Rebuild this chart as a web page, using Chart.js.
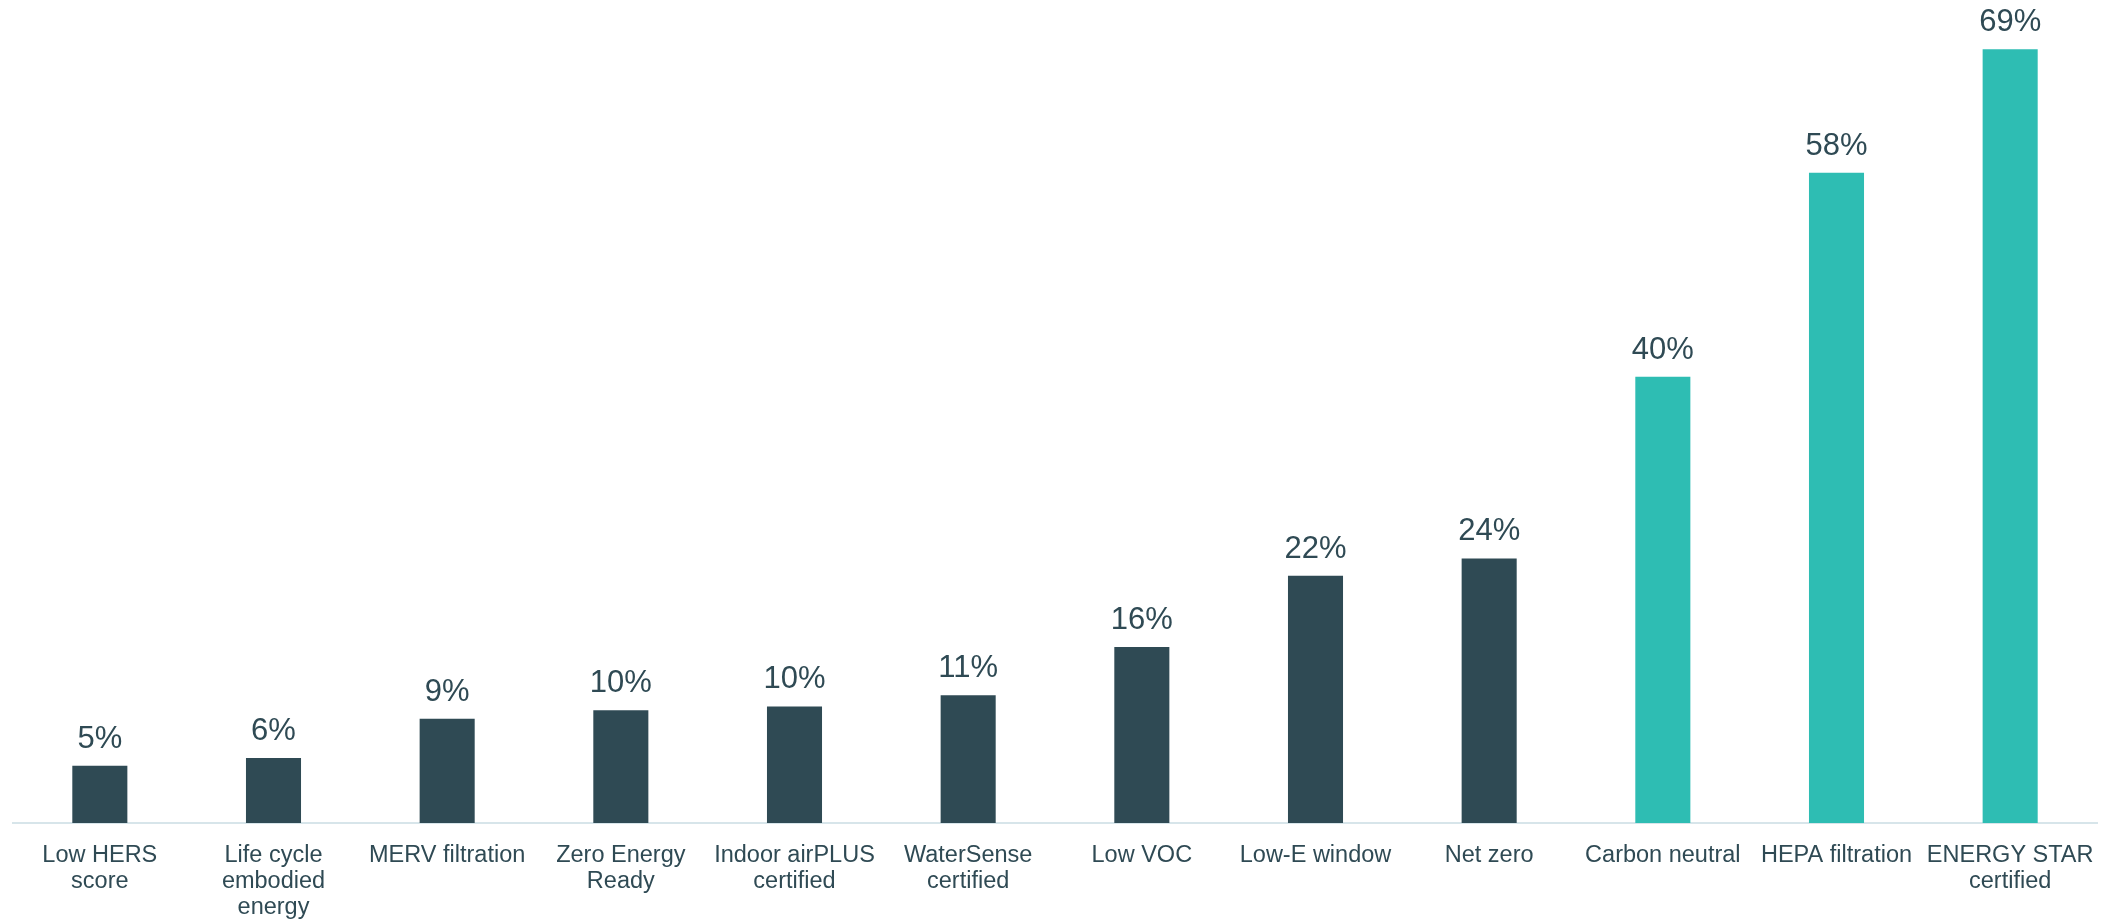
<!DOCTYPE html>
<html lang="en">
<head>
    <meta charset="UTF-8">
    <title>Green building features</title>
    <script src="https://cdn.jsdelivr.net/npm/chart.js@4.4.1/dist/chart.umd.min.js"></script>
    <style>
        html, body {
            margin: 0;
            padding: 0;
            background: #ffffff;
            overflow: hidden;
        }
        canvas {
            display: block;
        }
    </style>
</head>
<body>
    <canvas id="featureChart" width="2126" height="921"></canvas>

    <script>
        // Data (bar heights estimated, labels show rounded %)
        const categories = [
            ['Low HERS', 'score'],
            ['Life cycle', 'embodied', 'energy'],
            'MERV filtration',
            ['Zero Energy', 'Ready'],
            ['Indoor airPLUS', 'certified'],
            ['WaterSense', 'certified'],
            'Low VOC',
            'Low-E window',
            'Net zero',
            'Carbon neutral',
            'HEPA filtration',
            ['ENERGY STAR', 'certified']
        ];
        const shares = [5.1, 5.8, 9.3, 10.05, 10.4, 11.4, 15.7, 22.05, 23.6, 39.8, 58, 69];
        const highlighted = [false, false, false, false, false, false, false, false, false, true, true, true];

        const darkColor = '#2f4a54';
        const tealColor = '#2ebdb3';
        const fontFamily = "'Liberation Sans', Arial, sans-serif";

        // Percent labels above bars
        const valueLabels = {
            id: 'valueLabels',
            afterDatasetsDraw(chart) {
                const ctx = chart.ctx;
                const meta = chart.getDatasetMeta(0);
                ctx.save();
                ctx.font = '31px ' + fontFamily;
                ctx.fillStyle = darkColor;
                ctx.textAlign = 'center';
                ctx.textBaseline = 'alphabetic';
                meta.data.forEach((bar, i) => {
                    ctx.fillText(Math.round(shares[i]) + '%', bar.x, bar.y - 18);
                });
                ctx.restore();
            }
        };

        new Chart(document.getElementById('featureChart').getContext('2d'), {
            type: 'bar',
            data: {
                labels: categories,
                datasets: [{
                    data: shares,
                    backgroundColor: highlighted.map(h => h ? tealColor : darkColor),
                    borderWidth: 0,
                    barPercentage: 0.317,
                    categoryPercentage: 1
                }]
            },
            options: {
                responsive: false,
                animation: false,
                devicePixelRatio: 1,
                layout: {
                    padding: { left: 13, right: 29, top: 0, bottom: 0 }
                },
                plugins: {
                    legend: { display: false },
                    tooltip: { enabled: false }
                },
                scales: {
                    x: {
                        grid: { display: false, drawTicks: false },
                        border: { display: true, color: '#d7e5ea', width: 2 },
                        ticks: {
                            color: darkColor,
                            padding: 19,
                            maxRotation: 0,
                            autoSkip: false,
                            font: { family: fontFamily, size: 23.5, lineHeight: 1.12 }
                        },
                        afterFit(scale) {
                            scale.height = 98;
                        }
                    },
                    y: {
                        display: false,
                        min: 0,
                        max: 73.4
                    }
                }
            },
            plugins: [valueLabels]
        });
    </script>
</body>
</html>
